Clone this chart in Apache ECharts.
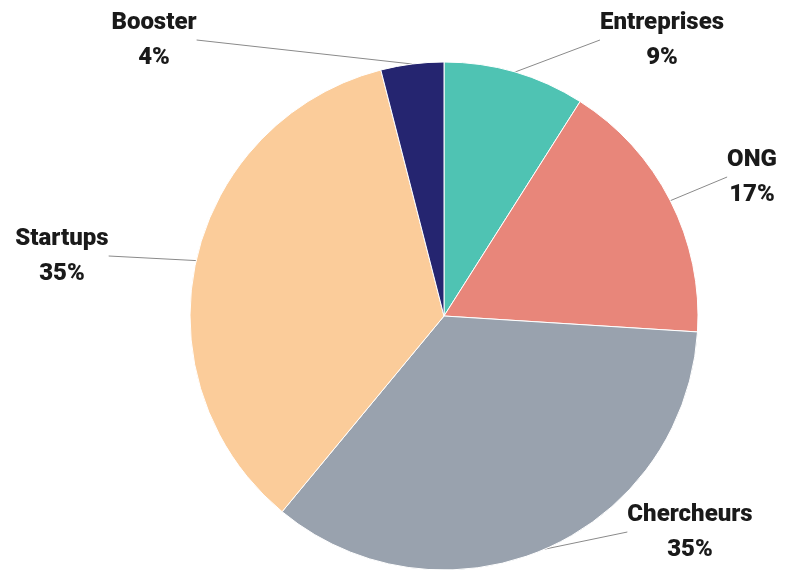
<!DOCTYPE html>
<html>
<head>
<meta charset="utf-8">
<script src="https://cdn.jsdelivr.net/npm/echarts@6/dist/echarts.min.js"></script>
<style>
html, body { margin: 0; padding: 0; background: #fff; }
#main { width: 786px; height: 573px; }
</style>
</head>
<body>
<div id="main"></div>
<script>
// categories and shares (%)
var names = ['Entreprises', 'ONG', 'Chercheurs', 'Startups', 'Booster'];
var values = [9, 17, 35, 35, 4];
var colors = ['#4fc3b3', '#e8867a', '#99a2ae', '#fbcc9a', '#252570'];

// where each label sits (centre of the two-line label)
var labelPos = [[662, 40], [752, 177], [690, 532], [62, 256], [154, 40]];

var data = [];
for (var i = 0; i < names.length; i++) {
	data.push({ name: names[i], value: values[i], itemStyle: { color: colors[i] } });
}

var chart = echarts.init(document.getElementById('main'));
chart.setOption({
	animation: false,
	series: [{
		type: 'pie',
		center: [444, 316],
		radius: 254,
		startAngle: 90,
		clockwise: true,
		itemStyle: { borderColor: '#fff', borderWidth: 1 },
		label: {
			show: true,
			formatter: '{b}\n{c}%',
			fontFamily: 'Roboto',
			fontWeight: 900,
			fontSize: 24,
			lineHeight: 35,
			color: '#1a1a1a',
			align: 'center'
		},
		labelLine: {
			show: true,
			length: 1,
			length2: 0,
			lineStyle: { color: '#8a8a8a', width: 1 }
		},
		labelLayout: function (params) {
			var p = labelPos[params.dataIndex];
			return { x: p[0], y: p[1], align: 'center', verticalAlign: 'middle' };
		},
		data: data
	}]
});
</script>
</body>
</html>
